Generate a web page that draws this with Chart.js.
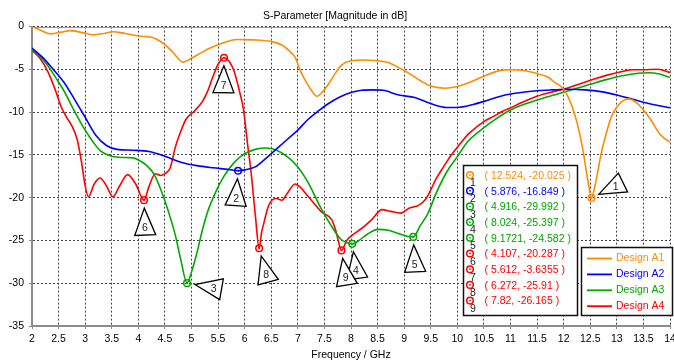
<!DOCTYPE html>
<html>
<head>
<meta charset="utf-8">
<script src="https://cdn.jsdelivr.net/npm/chart.js@4.4.0/dist/chart.umd.min.js"></script>
<style>
html,body{margin:0;padding:0;background:#fff;}
canvas{display:block;}
</style>
</head>
<body>
<canvas id="c" width="674" height="361"></canvas>
<script>
// ---------- data ----------
const seriesNames = ['Design A1', 'Design A2', 'Design A3', 'Design A4'];

const a1Freq = [2.0, 2.15, 2.35, 2.55, 2.72, 2.95, 3.15, 3.35, 3.52, 3.75, 4.0, 4.3, 4.5, 4.65, 4.84, 5.0, 5.17, 5.35, 5.55, 5.85, 6.15, 6.5, 6.7, 6.85, 6.95, 7.05, 7.15, 7.25, 7.36, 7.48, 7.6, 7.7, 7.82, 8.0, 8.25, 8.5, 8.7, 8.9, 9.1, 9.3, 9.5, 9.77, 10.0, 10.2, 10.5, 10.8, 11.0, 11.3, 11.55, 11.7, 11.85, 11.95, 12.05, 12.15, 12.25, 12.35, 12.45, 12.524, 12.6, 12.7, 12.8, 12.9, 13.0, 13.1, 13.22, 13.35, 13.5, 13.65, 13.8, 13.9, 14.0];
const a1Db = [0, -0.4, -0.85, -0.65, -0.47, -0.7, -0.95, -0.8, -0.6, -0.8, -1.1, -1.35, -2.1, -3.0, -4.15, -3.7, -3.1, -2.5, -2.0, -1.5, -1.55, -1.75, -2.15, -2.9, -3.6, -5.2, -6.4, -7.4, -8.15, -7.5, -6.5, -5.5, -4.5, -4.0, -3.9, -4.0, -4.2, -4.8, -5.5, -6.3, -6.95, -7.2, -7.0, -6.6, -5.8, -5.15, -5.05, -5.2, -5.6, -5.9, -6.6, -7.0, -7.8, -9.2, -11.2, -14.0, -17.8, -20.025, -18.3, -15.0, -12.5, -10.5, -9.4, -8.75, -8.45, -8.8, -9.75, -11.0, -12.5, -13.1, -13.5];

const a2Freq = [2.0, 2.2, 2.4, 2.6, 2.8, 3.0, 3.2, 3.4, 3.6, 3.9, 4.2, 4.5, 4.8, 5.1, 5.4, 5.7, 5.876, 6.0, 6.2, 6.4, 6.6, 6.8, 7.0, 7.2, 7.4, 7.6, 7.8, 8.0, 8.2, 8.4, 8.6, 8.9, 9.2, 9.5, 9.8, 10.0, 10.3, 10.6, 10.9, 11.2, 11.5, 11.8, 12.1, 12.4, 12.7, 13.0, 13.3, 13.6, 13.8, 14.0];
const a2Db = [-2.5, -3.6, -5.0, -6.5, -8.5, -10.6, -12.7, -13.9, -14.35, -14.45, -14.6, -15.15, -15.85, -16.25, -16.5, -16.7, -16.849, -16.75, -16.4, -15.4, -14.3, -13.2, -12.1, -10.8, -9.8, -8.9, -8.2, -7.7, -7.45, -7.4, -7.45, -8.0, -8.3, -9.0, -9.45, -9.45, -9.1, -8.55, -8.0, -7.7, -7.5, -7.4, -7.33, -7.4, -7.6, -8.0, -8.5, -9.0, -9.25, -9.5];

const a3Freq = [2.0, 2.15, 2.3, 2.45, 2.6, 2.8, 3.0, 3.15, 3.3, 3.5, 3.7, 3.9, 4.0, 4.15, 4.3, 4.45, 4.6, 4.7, 4.8, 4.916, 5.0, 5.1, 5.2, 5.3, 5.45, 5.6, 5.8, 6.0, 6.2, 6.4, 6.6, 6.8, 7.0, 7.2, 7.4, 7.6, 7.8, 7.9, 8.024, 8.15, 8.3, 8.5, 8.7, 8.9, 9.05, 9.1721, 9.3, 9.45, 9.6, 9.8, 10.0, 10.2, 10.4, 10.7, 11.0, 11.3, 11.6, 11.9, 12.2, 12.5, 12.8, 13.1, 13.4, 13.6, 13.8, 14.0];
const a3Db = [-2.7, -3.5, -4.6, -6.0, -7.5, -9.9, -12.1, -13.5, -14.6, -15.15, -15.3, -15.35, -15.6, -16.2, -17.3, -19.5, -22.3, -24.5, -27.3, -29.992, -28.7, -26.5, -23.9, -21.7, -19.4, -17.6, -15.9, -14.85, -14.35, -14.2, -14.45, -15.2, -16.4, -18.3, -20.8, -23.0, -24.8, -25.2, -25.397, -25.0, -24.3, -23.7, -23.8, -24.2, -24.5, -24.582, -23.3, -21.8, -19.5, -17.0, -15.2, -13.4, -12.3, -10.9, -9.75, -9.0, -8.4, -7.85, -7.3, -6.75, -6.2, -5.75, -5.45, -5.4, -5.55, -5.93];

const a4Freq = [2.0, 2.15, 2.3, 2.45, 2.55, 2.65, 2.75, 2.85, 2.93, 3.0, 3.06, 3.17, 3.28, 3.4, 3.52, 3.65, 3.8, 3.95, 4.107, 4.2, 4.32, 4.42, 4.5, 4.6, 4.7, 4.8, 4.9, 5.05, 5.2, 5.3, 5.4, 5.5, 5.612, 5.7, 5.8, 5.9, 5.98, 6.05, 6.12, 6.2, 6.272, 6.32, 6.36, 6.43, 6.51, 6.6, 6.7, 6.8, 6.95, 7.05, 7.2, 7.45, 7.64, 7.72, 7.82, 7.92, 8.02, 8.2, 8.4, 8.58, 8.75, 8.93, 9.1, 9.27, 9.4, 9.5, 9.6, 9.74, 9.9, 10.06, 10.2, 10.37, 10.5, 10.68, 10.85, 11.0, 11.2, 11.45, 11.75, 12.06, 12.3, 12.56, 12.8, 13.1, 13.3, 13.5, 13.75, 13.9, 14.0];
const a4Db = [-2.8, -3.7, -5.3, -7.6, -9.4, -10.6, -11.6, -13.2, -15.8, -18.6, -19.9, -18.4, -17.7, -18.6, -19.9, -18.6, -17.3, -18.4, -20.287, -18.7, -17.2, -17.4, -17.2, -16.5, -14.0, -12.2, -10.8, -9.9, -8.8, -7.6, -5.9, -4.4, -3.6355, -4.0, -5.2, -7.5, -9.8, -13.5, -17.0, -22.0, -25.91, -24.0, -23.0, -21.3, -20.3, -20.1, -20.3, -19.5, -18.4, -18.8, -19.9, -21.7, -22.6, -24.0, -26.165, -25.0, -24.4, -23.6, -22.5, -21.4, -21.6, -21.8, -21.2, -20.9, -20.2, -19.1, -17.8, -16.4, -14.9, -13.65, -12.6, -11.7, -11.1, -10.5, -9.9, -9.5, -8.9, -8.25, -7.7, -7.2, -6.7, -6.15, -5.7, -5.25, -5.05, -5.05, -4.99, -5.15, -5.39];

// markers: series index, frequency (GHz), magnitude (dB)
const markerSeries = [0, 1, 2, 2, 2, 3, 3, 3, 3];
const markerFreq = [12.524, 5.876, 4.916, 8.024, 9.1721, 4.107, 5.612, 6.272, 7.82];
const markerDb = [-20.025, -16.849, -29.992, -25.397, -24.582, -20.287, -3.6355, -25.91, -26.165];

const xTickMin = 2, xTickMax = 14, xTickStep = 0.5;
const yTickMin = -35, yTickMax = 0, yTickStep = 5;

const titleText = 'S-Parameter [Magnitude in dB]';
const xAxisTitle = 'Frequency / GHz';

// ---------- styles ----------
const colors = ['#ff8c00', '#0000ff', '#00a800', '#ff0000'];
const FONT = 'Liberation Sans, Arial, sans-serif';
const FS = 10.5;
// pointer direction (degrees) of each marker's triangle label
const pointerAngles = [-26, 94, 10, 82, 87, 88, 91, 75, 81];

const freqs = [a1Freq, a2Freq, a3Freq, a4Freq];
const dbs = [a1Db, a2Db, a3Db, a4Db];

const datasets = seriesNames.map((name, s) => ({
  label: name,
  data: freqs[s].map((f, i) => ({x: f, y: dbs[s][i]})),
  borderColor: colors[s],
  backgroundColor: colors[s],
  borderWidth: 1.6,
  pointRadius: 0,
  fill: false,
  cubicInterpolationMode: 'monotone'
}));

function markerIcon(ctx, px, py, col) {
  ctx.save();
  ctx.strokeStyle = col;
  ctx.lineWidth = 1.5;
  ctx.beginPath();
  ctx.arc(px, py, 3.3, 0, Math.PI * 2);
  ctx.stroke();
  ctx.fillStyle = col;
  ctx.beginPath();
  ctx.arc(px, py, 0.9, 0, Math.PI * 2);
  ctx.fill();
  ctx.restore();
}

const overlay = {
  id: 'overlay',
  beforeDatasetsDraw(chart) {
    const {ctx, chartArea: a} = chart;
    ctx.save();
    ctx.strokeStyle = '#9a9a9a';
    ctx.lineWidth = 1;
    ctx.beginPath();
    ctx.moveTo(a.left, Math.round(a.top) + 0.5);
    ctx.lineTo(a.right, Math.round(a.top) + 0.5);
    ctx.stroke();
    ctx.restore();
  },
  afterDatasetsDraw(chart) {
    const {ctx, scales: {x, y}} = chart;
    // marker circles on curves
    markerFreq.forEach((f, i) => {
      markerIcon(ctx, x.getPixelForValue(f), y.getPixelForValue(markerDb[i]), colors[markerSeries[i]]);
    });
    // triangle pointers
    ctx.save();
    ctx.font = FS + 'px ' + FONT;
    ctx.textAlign = 'center';
    ctx.textBaseline = 'middle';
    markerFreq.forEach((f, i) => {
      const px = x.getPixelForValue(f), py = y.getPixelForValue(markerDb[i]);
      const t = pointerAngles[i] * Math.PI / 180;
      const ux = Math.cos(t), uy = Math.sin(t), nx = -uy, ny = ux;
      const ax = px + ux * 8, ay = py + uy * 8;
      const bx = ax + ux * 27, by = ay + uy * 27;
      ctx.beginPath();
      ctx.moveTo(ax, ay);
      ctx.lineTo(bx + nx * 10.5, by + ny * 10.5);
      ctx.lineTo(bx - nx * 10.5, by - ny * 10.5);
      ctx.closePath();
      ctx.fillStyle = '#fff';
      ctx.fill();
      ctx.strokeStyle = '#000';
      ctx.lineWidth = 1.3;
      ctx.stroke();
      ctx.fillStyle = '#222';
      ctx.fillText(String(i + 1), ax + ux * 19, ay + uy * 19 + 1);
    });
    ctx.restore();

    // marker value table
    ctx.save();
    const tx = 463.5, ty = 165.5, tw = 114, th = 150;
    ctx.fillStyle = '#fff';
    ctx.fillRect(tx, ty, tw, th);
    ctx.strokeStyle = '#111';
    ctx.lineWidth = 1.5;
    ctx.strokeRect(tx, ty, tw, th);
    ctx.font = FS + 'px ' + FONT;
    ctx.textBaseline = 'middle';
    markerFreq.forEach((f, i) => {
      const ry = 176 + i * 15.7;
      const col = colors[markerSeries[i]];
      markerIcon(ctx, 470, ry - 1, col);
      ctx.fillStyle = '#222';
      ctx.textAlign = 'center';
      ctx.fillText(String(i + 1), 473, ry + 7.5);
      ctx.fillStyle = col;
      ctx.textAlign = 'left';
      ctx.fillText('( ' + f + ', ' + markerDb[i] + ' )', 484.5, ry);
    });
    ctx.restore();

    // legend
    ctx.save();
    const lx = 581.5, ly = 247.5, lw = 91, lh = 68;
    ctx.fillStyle = '#fff';
    ctx.fillRect(lx, ly, lw, lh);
    ctx.strokeStyle = '#111';
    ctx.lineWidth = 1.5;
    ctx.strokeRect(lx, ly, lw, lh);
    ctx.font = FS + 'px ' + FONT;
    ctx.textBaseline = 'middle';
    ctx.textAlign = 'left';
    seriesNames.forEach((name, s) => {
      const ry = 258.5 + s * 15.9;
      ctx.strokeStyle = colors[s];
      ctx.lineWidth = 1.8;
      ctx.beginPath();
      ctx.moveTo(587, ry);
      ctx.lineTo(612, ry);
      ctx.stroke();
      ctx.fillStyle = colors[s];
      ctx.fillText(name, 616, ry);
    });
    ctx.restore();
  }
};

new Chart(document.getElementById('c'), {
  type: 'line',
  data: {datasets},
  plugins: [overlay],
  options: {
    responsive: false,
    animation: false,
    devicePixelRatio: 1,
    layout: {padding: {left: 0, right: 4, top: 0, bottom: 0}},
    plugins: {
      legend: {display: false},
      tooltip: {enabled: false},
      title: {
        display: true,
        text: titleText,
        color: '#000',
        font: {family: FONT, size: FS, weight: 'normal'},
        padding: {top: 10, bottom: 4}
      }
    },
    scales: {
      x: {
        type: 'linear',
        min: xTickMin,
        max: xTickMax,
        afterFit: s => { s.height = 35; s.paddingLeft = 0; s.paddingRight = 0; },
        ticks: {
          stepSize: xTickStep,
          autoSkip: false,
          maxRotation: 0,
          color: '#000',
          font: {family: FONT, size: FS},
          padding: 4,
          callback: v => String(v)
        },
        grid: {color: '#444', lineWidth: 1, tickLength: 3, tickColor: '#888', tickBorderDash: [], tickWidth: 1},
        border: {color: '#8c8c8c', width: 2, dash: [2, 2]},
        title: {display: true, text: xAxisTitle, color: '#000', font: {family: FONT, size: FS}, padding: {top: 0, bottom: 0}}
      },
      y: {
        type: 'linear',
        min: yTickMin,
        max: yTickMax,
        afterFit: s => { s.width = 32; },
        ticks: {
          stepSize: yTickStep,
          color: '#000',
          font: {family: FONT, size: FS},
          padding: 5,
          callback: v => String(v)
        },
        grid: {color: '#444', lineWidth: 1, tickLength: 3, tickColor: '#888', tickBorderDash: [], tickWidth: 1},
        border: {color: '#8c8c8c', width: 2, dash: [2, 2]}
      }
    }
  }
});
</script>
</body>
</html>
